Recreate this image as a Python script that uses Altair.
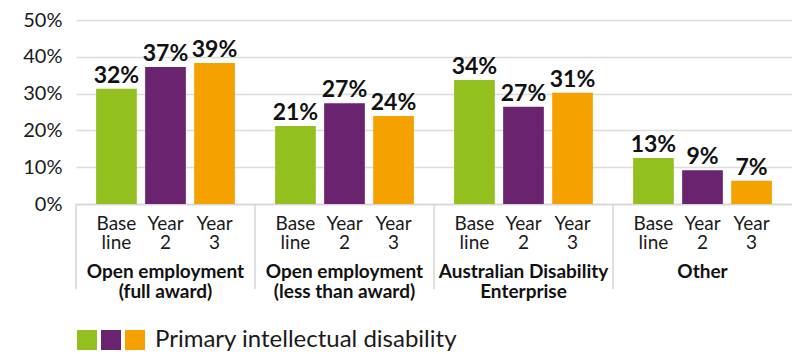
import altair as alt
import pandas as pd

groups = ["OE_full", "OE_less", "ADE", "Other"]
group_line1 = ["Open employment", "Open employment", "Australian Disability", "Other"]
group_line2 = ["(full award)", "(less than award)", "Enterprise", ""]
series = ["Base line", "Year 2", "Year 3"]
series_line1 = ["Base", "Year", "Year"]
series_line2 = ["line", "2", "3"]
colors = ["#93C01F", "#6A236E", "#F5A100"]

values_base = [31.3, 21.2, 33.7, 12.5]
values_y2 = [37.2, 27.4, 26.4, 9.2]
values_y3 = [38.3, 23.9, 30.2, 6.3]
text_base = ["32%", "21%", "34%", "13%"]
text_y2 = ["37%", "27%", "27%", "9%"]
text_y3 = ["39%", "24%", "31%", "7%"]

legend_title = "Primary intellectual disability"

rows = []
for i, (vals, txts) in enumerate([(values_base, text_base), (values_y2, text_y2),
                                   (values_y3, text_y3)]):
    for g, v, t in zip(groups, vals, txts):
        rows.append({"group": g, "series": series[i], "sub1": series_line1[i],
                     "sub2": series_line2[i], "value": v, "label": t})
df = pd.DataFrame(rows)
gdf = pd.DataFrame({"group": groups, "g1": group_line1, "g2": group_line2})

FONT = "Lato"
x_enc = alt.X("group:N", sort=groups,
              scale=alt.Scale(paddingInner=0, paddingOuter=0),
              axis=alt.Axis(labels=False, ticks=False, title=None, domain=True,
                            domainColor="#d6d6d6", domainWidth=1.5, grid=False))
xoff = alt.XOffset("series:N", sort=series,
                   scale=alt.Scale(paddingInner=0.17, paddingOuter=0.41))
y_axis = alt.Axis(values=[0, 10, 20, 30, 40, 50], labelExpr="datum.value + '%'",
                  title=None, domain=False, ticks=False, labelPadding=14,
                  labelOverlap=False, labelFontSize=20, labelFont=FONT,
                  labelColor="#1a1a1a", gridColor="#dcdcdc", gridWidth=1.5)
y_enc = alt.Y("value:Q", scale=alt.Scale(domain=[0, 50]), axis=y_axis)
color_enc = alt.Color("series:N", sort=series,
                      scale=alt.Scale(domain=series, range=colors),
                      legend=alt.Legend(orient="none", legendX=1, legendY=310,
                                        direction="horizontal", title=legend_title,
                                        titleOrient="right", titleFontSize=24,
                                        titleFont=FONT, titleFontWeight="normal",
                                        titleColor="#1a1a1a", titlePadding=10,
                                        titleLimit=600,
                                        symbolType="square", symbolSize=400,
                                        symbolStrokeWidth=0, symbolOpacity=1,
                                        labelExpr="''", labelOffset=0, columnPadding=4,
                                        labelFontSize=1))

bars = alt.Chart(df).mark_bar().encode(x=x_enc, xOffset=xoff, y=y_enc, color=color_enc)

vals_text = alt.Chart(df).mark_text(font=FONT, fontWeight="bold", fontSize=23,
                                    baseline="alphabetic", dy=-6, color="#111111").encode(
    x=alt.X("group:N", sort=groups), xOffset=alt.XOffset("series:N", sort=series),
    y=y_enc, text="label:N")

sub_text1 = alt.Chart(df).mark_text(font=FONT, fontSize=19, baseline="alphabetic",
                                    color="#1a1a1a").encode(
    x=alt.X("group:N", sort=groups), xOffset=alt.XOffset("series:N", sort=series),
    y=alt.value(210), text="sub1:N")
sub_text2 = alt.Chart(df).mark_text(font=FONT, fontSize=19, baseline="alphabetic",
                                    color="#1a1a1a").encode(
    x=alt.X("group:N", sort=groups), xOffset=alt.XOffset("series:N", sort=series),
    y=alt.value(229), text="sub2:N")

grp_text1 = alt.Chart(gdf).mark_text(font=FONT, fontSize=19, fontWeight="bold",
                                     baseline="alphabetic", color="#111111").encode(
    x=alt.X("group:N", sort=groups), y=alt.value(258), text="g1:N")
grp_text2 = alt.Chart(gdf).mark_text(font=FONT, fontSize=19, fontWeight="bold",
                                     baseline="alphabetic", color="#111111").encode(
    x=alt.X("group:N", sort=groups), y=alt.value(278), text="g2:N")

seps = alt.Chart(gdf).mark_rule(color="#d6d6d6", strokeWidth=1.5).encode(
    x=alt.X("group:N", sort=groups, bandPosition=0), y=alt.value(184), y2=alt.value(269))

chart = alt.layer(bars, vals_text, sub_text1, sub_text2, grp_text1, grp_text2, seps).properties(
    width=716, height=184,
    autosize=alt.AutoSizeParams(type="none"),
    padding={"left": 68, "top": 12, "right": 0, "bottom": 152},
).configure_view(stroke=None)

chart.save("out.html", embed_options={"renderer": "svg", "actions": False})
